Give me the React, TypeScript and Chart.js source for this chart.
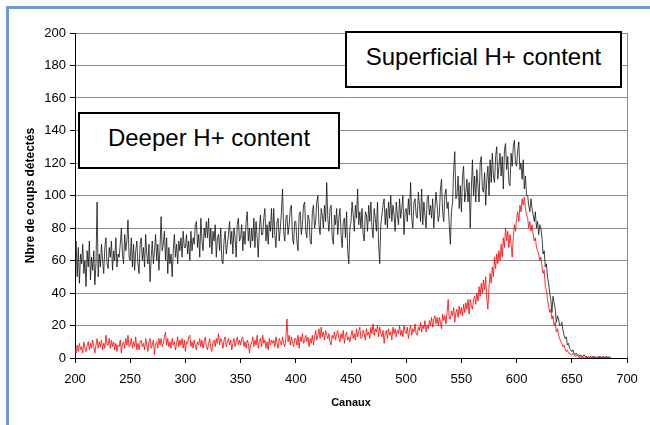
import React, { useEffect, useRef } from 'react';
import { Chart, registerables } from 'chart.js';

Chart.register(...registerables);

// Channels start at 200, one value per channel
const CHANNEL_START = 200;
const CHANNEL_STEP = 1;

const xTickValues = [200, 250, 300, 350, 400, 450, 500, 550, 600, 650, 700];
const yTickValues = [0, 20, 40, 60, 80, 100, 120, 140, 160, 180, 200];

// Black trace (counts per channel, 200..685)
const superficialCounts = [
  62, 72, 50, 68, 46, 64, 58, 70, 52, 60,
  44, 66, 56, 72, 48, 62, 54, 66, 45, 58,
  96, 50, 64, 56, 70, 60, 52, 68, 74, 58,
  55, 68, 62, 72, 54, 66, 60, 74, 56, 64,
  62, 70, 80, 64, 58, 76, 66, 72, 85, 62,
  60, 74, 56, 70, 54, 66, 72, 58, 52, 70,
  74, 60, 68, 56, 76, 64, 58, 70, 47, 62,
  72, 58, 66, 76, 60, 70, 54, 68, 87, 66,
  70, 78, 60, 74, 52, 68, 58, 64, 50, 66,
  76, 62, 70, 58, 72, 66, 74, 62, 78, 68,
  68, 76, 64, 72, 60, 78, 66, 74, 70, 82,
  84, 68, 76, 62, 86, 72, 66, 80, 74, 84,
  74, 86, 68, 80, 64, 78, 72, 82, 62, 74,
  76, 66, 80, 60, 58, 72, 78, 64, 70, 76,
  84, 70, 78, 64, 80, 74, 62, 82, 86, 72,
  74, 82, 66, 78, 70, 84, 90, 72, 80, 68,
  80, 72, 86, 68, 84, 74, 62, 80, 88, 76,
  76, 86, 92, 72, 82, 70, 84, 78, 92, 74,
  92, 76, 68, 84, 86, 72, 80, 90, 104, 78,
  72, 86, 88, 76, 82, 92, 94, 74, 70, 84,
  84, 72, 66, 88, 90, 76, 82, 94, 96, 78,
  74, 88, 86, 72, 70, 90, 94, 80, 84, 96,
  100, 82, 76, 92, 88, 80, 94, 84, 108, 86,
  78, 92, 94, 74, 70, 88, 82, 92, 76, 86,
  92, 76, 68, 84, 86, 74, 90, 66, 58, 80,
  84, 96, 88, 78, 94, 86, 104, 82, 90, 80,
  92, 76, 72, 90, 88, 78, 94, 84, 96, 80,
  74, 92, 86, 78, 96, 70, 58, 82, 88, 94,
  98, 82, 92, 80, 96, 86, 100, 84, 94, 88,
  78, 96, 88, 82, 98, 86, 92, 100, 76, 90,
  92, 84, 98, 88, 108, 86, 80, 96, 98, 88,
  86, 102, 94, 84, 104, 82, 96, 88, 80, 98,
  100, 88, 94, 86, 98, 80, 92, 102, 94, 84,
  88, 104, 110, 90, 84, 100, 104, 92, 96, 82,
  70, 90, 96, 116, 127, 98, 100, 112, 92, 106,
  90, 112, 118, 96, 102, 110, 96, 108, 80, 104,
  122, 100, 112, 96, 116, 106, 96, 120, 124, 104,
  102, 114, 94, 110, 118, 100, 122, 108, 126, 112,
  108, 124, 130, 110, 118, 126, 112, 124, 104, 128,
  132, 116, 124, 108, 106, 126, 118, 130, 134, 120,
  118, 128, 133, 116, 120, 110, 122, 104, 112, 100,
  100, 94, 90, 98, 92, 88, 84, 90, 80, 84,
  76, 82, 80, 74, 64, 66, 56, 58, 50, 46,
  40, 36, 28, 38, 34, 30, 22, 26, 24, 20,
  20, 22, 17, 14, 12, 13, 8, 9, 6, 5,
  4, 5, 3, 2, 3, 2, 2, 1, 2, 1,
  1, 2, 1, 1, 0, 1, 0, 1, 0, 1,
  0, 1, 0, 0, 1, 0, 1, 0, 0, 1,
  0, 1, 0, 0, 1, 0,
];

// Red trace (counts per channel, 200..685)
const deeperCounts = [
  6, 3, 8, 4, 9, 5, 7, 3, 10, 6,
  4, 8, 10, 5, 9, 6, 11, 7, 3, 8,
  12, 6, 10, 7, 11, 5, 9, 6, 14, 8,
  8, 12, 6, 11, 7, 10, 5, 9, 4, 8,
  7, 11, 3, 9, 10, 6, 12, 8, 14, 7,
  8, 12, 6, 10, 7, 13, 5, 9, 5, 10,
  11, 7, 9, 5, 12, 8, 4, 10, 12, 6,
  8, 11, 2, 9, 10, 6, 12, 8, 12, 7,
  9, 13, 16, 8, 12, 7, 10, 6, 12, 8,
  10, 5, 9, 13, 7, 11, 8, 12, 6, 11,
  4, 10, 9, 13, 14, 7, 10, 6, 11, 8,
  5, 10, 8, 12, 7, 11, 6, 10, 13, 7,
  5, 9, 12, 6, 4, 10, 11, 7, 12, 9,
  15, 8, 12, 10, 6, 11, 13, 7, 10, 12,
  8, 11, 5, 9, 12, 7, 10, 13, 8, 11,
  8, 12, 13, 7, 10, 6, 11, 9, 3, 8,
  9, 13, 7, 11, 8, 14, 6, 10, 12, 7,
  14, 9, 11, 6, 10, 5, 12, 8, 11, 9,
  11, 7, 13, 9, 6, 12, 10, 8, 13, 9,
  7, 12, 24, 10, 14, 8, 13, 10, 7, 12,
  12, 8, 14, 6, 13, 10, 15, 9, 11, 14,
  10, 13, 7, 12, 9, 14, 8, 13, 17, 11,
  14, 18, 12, 19, 13, 16, 11, 17, 14, 12,
  15, 10, 8, 14, 12, 16, 11, 15, 17, 12,
  10, 15, 12, 17, 9, 14, 16, 11, 13, 10,
  14, 17, 12, 15, 11, 18, 13, 16, 19, 12,
  13, 17, 15, 11, 18, 14, 16, 12, 19, 15,
  21, 14, 18, 16, 20, 13, 19, 15, 13, 17,
  9, 15, 17, 12, 18, 14, 16, 11, 19, 15,
  18, 13, 17, 15, 20, 14, 17, 13, 20, 16,
  15, 19, 12, 17, 20, 14, 18, 16, 21, 15,
  14, 19, 17, 22, 16, 20, 18, 23, 16, 20,
  18, 23, 20, 25, 19, 24, 26, 21, 25, 20,
  25, 22, 18, 27, 23, 26, 21, 28, 36, 24,
  24, 29, 26, 31, 22, 28, 30, 25, 32, 27,
  31, 26, 33, 28, 34, 30, 36, 27, 36, 32,
  30, 36, 38, 33, 40, 35, 44, 38, 46, 40,
  48, 42, 50, 36, 30, 44, 52, 46, 56, 50,
  62, 55, 64, 58, 66, 60, 70, 62, 74, 68,
  80, 72, 78, 68, 76, 70, 62, 74, 82, 78,
  86, 90, 84, 94, 90, 98, 94, 99, 92, 88,
  86, 80, 84, 78, 82, 76, 72, 74, 68, 66,
  64, 60, 62, 56, 52, 54, 44, 42, 36, 32,
  28, 30, 24, 26, 20, 22, 16, 18, 14, 12,
  10, 9, 7, 8, 5, 4, 5, 3, 3, 2,
  2, 3, 2, 1, 1, 2, 1, 0, 1, 0,
  1, 0, 0, 1, 0, 0, 0, 1, 0, 0,
  1, 0, 0, 0, 0, 1, 0, 0, 1, 0,
  0, 0, 1, 0, 0, 0,
];

const xAxisTitle = 'Canaux';
const yAxisTitle = 'Nbre de coups détectés';
const superficialLabel = 'Superficial H+ content';
const deeperLabel = 'Deeper H+ content';

const FONT = '"Liberation Sans", Arial, Helvetica, sans-serif';

export default function App() {
  const canvasRef = useRef<HTMLCanvasElement | null>(null);

  useEffect(() => {
    const canvas = canvasRef.current;
    if (!canvas) return;
    const toPoints = (vals: number[]) =>
      vals.map((v, i) => ({ x: CHANNEL_START + i * CHANNEL_STEP, y: v }));

    const chart = new Chart(canvas, {
      type: 'line',
      data: {
        datasets: [
          {
            label: 'Deeper',
            data: toPoints(deeperCounts),
            borderColor: '#ff0000',
            borderWidth: 0.8,
            pointRadius: 0,
            tension: 0,
            fill: false,
            order: 0,
          },
          {
            label: 'Superficial',
            data: toPoints(superficialCounts),
            borderColor: '#111111',
            borderWidth: 0.8,
            pointRadius: 0,
            tension: 0,
            fill: false,
            order: 1,
          },
        ],
      },
      options: {
        responsive: false,
        animation: false,
        events: [],
        layout: { padding: { left: 0, top: 33, right: 23, bottom: 0 } },
        plugins: { legend: { display: false }, tooltip: { enabled: false } },
        scales: {
          x: {
            type: 'linear',
            min: xTickValues[0],
            max: xTickValues[xTickValues.length - 1],
            afterBuildTicks: (s: any) => {
              s.ticks = xTickValues.map((v) => ({ value: v }));
            },
            afterFit: (s: any) => {
              s.height = 67;
            },
            ticks: {
              color: '#000',
              font: { family: FONT, size: 13 },
              padding: 9,
              maxRotation: 0,
              autoSkip: false,
            },
            grid: {
              color: (ctx: any) => (ctx.tick && ctx.tick.value === 700 ? '#8c8c8c' : 'rgba(0,0,0,0)'),
              tickColor: '#000',
              tickLength: 5,
              lineWidth: 1,
            },
            border: { color: '#000', width: 1 },
            title: {
              display: true,
              text: xAxisTitle,
              color: '#000',
              font: { family: FONT, size: 11, weight: 'bold' },
              padding: { top: 0, bottom: 15 },
            },
          },
          y: {
            min: yTickValues[0],
            max: yTickValues[yTickValues.length - 1],
            afterBuildTicks: (s: any) => {
              s.ticks = yTickValues.map((v) => ({ value: v }));
            },
            afterFit: (s: any) => {
              s.width = 75;
            },
            ticks: {
              color: '#000',
              font: { family: FONT, size: 13 },
              padding: 4,
              autoSkip: false,
            },
            grid: {
              color: '#8c8c8c',
              tickColor: '#000',
              tickLength: 5,
              lineWidth: 1,
            },
            border: { color: '#000', width: 1 },
            title: {
              display: true,
              text: yAxisTitle,
              color: '#000',
              font: { family: FONT, size: 12, weight: 'bold' },
              padding: { top: 23, bottom: 0 },
            },
          },
        },
      },
    } as any);

    return () => {
      chart.destroy();
    };
  }, []);

  const boxBase: React.CSSProperties = {
    position: 'absolute',
    boxSizing: 'border-box',
    border: '2px solid #000',
    background: '#fff',
    display: 'flex',
    alignItems: 'center',
    justifyContent: 'center',
    fontFamily: FONT,
    fontSize: 24,
    color: '#000',
    whiteSpace: 'nowrap',
  };

  return (
    <div
      style={{
        position: 'fixed',
        left: 0,
        top: 0,
        width: 650,
        height: 425,
        background: '#fff',
        overflow: 'hidden',
      }}
    >
      <canvas ref={canvasRef} width={650} height={425} style={{ position: 'absolute', left: 0, top: 0 }} />
      <div
        style={{
          position: 'absolute',
          left: 6,
          top: 6,
          width: 650,
          height: 425,
          borderTop: '3px solid #6f9bd6',
          borderLeft: '3px solid #6f9bd6',
          pointerEvents: 'none',
        }}
      />
      <div style={{ ...boxBase, left: 345, top: 31, width: 277, height: 57, paddingBottom: 6 }}>{superficialLabel}</div>
      <div style={{ ...boxBase, left: 78, top: 112, width: 262, height: 57, paddingBottom: 6 }}>{deeperLabel}</div>
    </div>
  );
}
